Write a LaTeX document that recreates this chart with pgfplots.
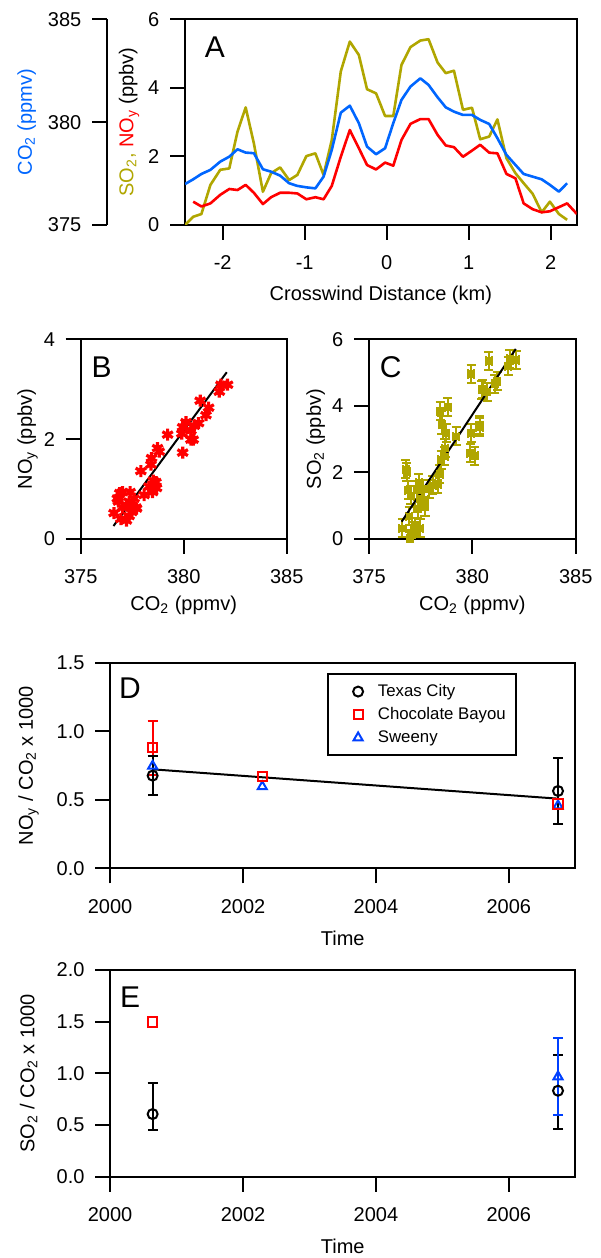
\documentclass[border=0pt]{standalone}
\usepackage{fontspec}
\setmainfont{Liberation Sans}
\usepackage{pgfplots}
\usepackage{pgfplotstable}
\pgfplotsset{compat=1.18}

\definecolor{cblue}{RGB}{0,102,255}
\definecolor{cred}{RGB}{255,0,0}
\definecolor{colive}{RGB}{176,166,0}
\definecolor{dblue}{RGB}{0,64,255}

\pgfplotstableread{
x co2 noy so2
-2.46 376.99 nan 0.00
-2.36 377.22 0.68 0.24
-2.26 377.48 0.54 0.32
-2.15 377.68 0.63 1.17
-2.03 378.08 0.88 1.61
-1.92 378.32 1.05 1.65
-1.82 378.68 1.02 2.72
-1.72 378.52 1.17 3.43
-1.62 378.49 0.94 2.38
-1.51 377.71 0.61 0.97
-1.41 377.59 0.81 1.51
-1.30 377.40 0.94 1.68
-1.19 377.03 0.94 1.31
-1.09 376.90 0.92 1.46
-0.98 376.83 0.75 2.01
-0.87 376.78 0.81 2.09
-0.77 377.35 0.75 1.46
-0.67 378.65 1.14 2.48
-0.56 380.46 1.99 4.48
-0.45 380.80 2.77 5.35
-0.34 379.95 2.24 4.96
-0.24 378.81 1.75 3.96
-0.13 378.44 1.62 3.84
-0.02 378.73 1.82 3.18
0.08 379.95 1.73 3.18
0.18 381.08 2.48 4.67
0.29 381.73 2.95 5.19
0.41 382.13 3.09 5.38
0.51 381.81 3.09 5.42
0.62 381.21 2.63 4.74
0.72 380.72 2.32 4.43
0.82 380.51 2.27 4.50
0.93 380.35 1.99 3.36
1.04 380.35 2.17 3.42
1.14 380.11 2.34 2.50
1.25 379.91 2.11 2.58
1.35 379.22 2.09 3.08
1.46 378.41 1.49 1.95
1.57 377.92 1.36 1.51
1.67 377.48 0.63 1.22
1.78 377.35 0.46 0.91
1.89 377.22 0.37 0.37
1.99 376.95 0.40 0.68
2.10 376.62 0.52 0.32
2.20 377.03 0.63 0.15
2.32 nan 0.32 nan
}\plume

\newcommand{\tfont}{\fontsize{10}{12}\selectfont}
\newcommand{\pfont}{\fontsize{15}{15}\selectfont}

\pgfplotsset{
  every axis/.append style={
    scale only axis,
    font=\tfont,
    tick align=outside,
    tick pos=left,
    major tick length=7.5pt,
    axis line style={line width=1pt},
    tick style={line width=1pt, black},
    /pgf/number format/assume math mode=true,
    /pgf/number format/1000 sep={},
    tick label style={font=\tfont},
    label style={font=\tfont},
    xticklabel style={anchor=center, yshift=-11.5pt},
    yticklabel style={xshift=-1.8pt},
    xlabel style={at={(axis description cs:0.5,0)}, anchor=center, yshift=-35pt},
  },
  ebar/.style={error bars/.cd, y dir=both, y explicit,
    error bar style={line width=1pt, #1},
    error mark options={rotate=90, mark size=2.5pt, line width=1pt, #1}},
}

\begin{document}
\begin{tikzpicture}
\path[use as bounding box] (0,0) rectangle (300pt,629pt);

% ---------------- Panel A ----------------
\begin{axis}[
  at={(92.5pt,516.5pt)}, anchor=south west,
  width=195.85pt, height=102.85pt,
  xmin=-2.46, xmax=2.317, ymin=0, ymax=6,
  xtick={-2,-1,0,1,2}, xticklabels={-2,-1,0,1,2},
  ytick={0,2,4,6},
  xlabel={Crosswind Distance (km)},
  ylabel={\color{colive}SO\textsubscript{2}, \color{cred}NO\textsubscript{y} \color{black}(ppbv)},
  ylabel style={at={(axis description cs:0,0.5)}, anchor=center, yshift=28pt},
]
\addplot[colive, line width=1.3pt, line join=round] table[x=x, y=so2] {\plume};
\addplot[cred, line width=1.3pt, line join=round] table[x=x, y=noy] {\plume};
\node[font=\pfont, anchor=center] at (rel axis cs:0.0766,0.864) {A};
\end{axis}
\begin{axis}[
  at={(92.5pt,516.5pt)}, anchor=south west,
  width=195.85pt, height=102.85pt,
  xmin=-2.46, xmax=2.317, ymin=375, ymax=385,
  hide axis,
]
\addplot[cblue, line width=1.3pt, line join=round] table[x=x, y=co2] {\plume};
\end{axis}
% CO2 scale (detached left axis)
\begin{axis}[
  at={(53.5pt,516.5pt)}, anchor=south west,
  width=1pt, height=102.85pt,
  xmin=0, xmax=1, ymin=375, ymax=385,
  axis x line=none, axis y line=left,
  axis line style={-, line width=1pt},
  tick align=outside,
  ytick={375,380,385},
  ylabel={\color{cblue}CO\textsubscript{2} (ppmv)},
  ylabel style={at={(axis description cs:0,0.5)}, anchor=center, yshift=40.1pt},
]
\end{axis}

% ---------------- Panel B ----------------
\begin{axis}[
  at={(40.35pt,359.5pt)}, anchor=south west,
  width=103pt, height=99.85pt,
  xmin=375, xmax=385, ymin=0, ymax=4,
  xtick={375,380,385}, ytick={0,2,4},
  xlabel={CO\textsubscript{2} (ppmv)},
  xlabel style={yshift=2pt},
  ylabel={NO\textsubscript{y} (ppbv)},
  ylabel style={at={(axis description cs:0,0.5)}, anchor=center, yshift=26.5pt},
]
\addplot[only marks, mark=asterisk, mark size=3pt, cred, mark options={line width=1.6pt}] table[x=co2, y=noy] {\plume};
\addplot[black, line width=1pt] coordinates {(376.59,0.26) (382.09,3.34)};
\node[font=\pfont, anchor=center] at (rel axis cs:0.102,0.86) {B};
\end{axis}

% ---------------- Panel C ----------------
\begin{axis}[
  at={(184.5pt,359.5pt)}, anchor=south west,
  width=103.35pt, height=99.85pt,
  xmin=375, xmax=385, ymin=0, ymax=6,
  xtick={375,380,385}, ytick={0,2,4,6},
  xlabel={CO\textsubscript{2} (ppmv)},
  xlabel style={yshift=2pt},
  ylabel={SO\textsubscript{2} (ppbv)},
  ylabel style={at={(axis description cs:0,0.5)}, anchor=center, yshift=26.7pt},
]
\addplot[only marks, mark=square*, mark size=1.7pt, colive,
  error bars/.cd, x dir=both, x fixed=0.15, y dir=both, y fixed=0.27,
  error bar style={line width=1pt, colive},
  error mark options={rotate=90, mark size=2.3pt, line width=1pt, colive}]
  table[x=co2, y=so2] {\plume};
\addplot[black, line width=1pt] coordinates {(376.58,0.52) (382.10,5.71)};
\node[font=\pfont, anchor=center] at (rel axis cs:0.105,0.86) {C};
\end{axis}

% ---------------- Panel D ----------------
\begin{axis}[
  at={(55.05pt,194.85pt)}, anchor=south west,
  width=232.6pt, height=102.8pt,
  xmin=2000, xmax=2007, ymin=0, ymax=1.5,
  xtick={2000,2002,2004,2006}, xticklabels={2000,2002,2004,2006},
  ytick={0,0.5,1,1.5}, yticklabels={0.0,0.5,1.0,1.5},
  xlabel={Time},
  ylabel={NO\textsubscript{y} / CO\textsubscript{2} x 1000},
  ylabel style={at={(axis description cs:0,0.5)}, anchor=center, yshift=40.7pt},
  reverse legend,
  legend cell align=left,
  legend image code/.code={\path (-0.4cm,0) (0.26cm,0); \draw[mark repeat=1,#1] plot coordinates {(0cm,0cm)};},
  legend style={at={(axis description cs:0.467,0.948)}, anchor=north west,
    draw=black, line width=1pt, font=\fontsize{8.4}{10}\selectfont,
    inner xsep=3pt, inner ysep=2.8pt,
    nodes={inner ysep=2pt}},
]
\addplot[black, line width=1pt, forget plot] coordinates {(2000.64,0.722) (2006.74,0.508)};
\addplot[only marks, mark=triangle, mark size=2.6pt, dblue, mark options={line width=1pt}]
  coordinates {(2000.64,0.746) (2002.29,0.596) (2006.74,0.457)};
\addlegendentry{Sweeny}
\addplot[forget plot, only marks, mark=square, mark size=2.3pt, cred, mark options={line width=1pt}, ebar=cred]
  coordinates {(2000.64,0.880) +- (0,0.197)};
\addplot[only marks, mark=square, mark size=2.3pt, cred, mark options={line width=1pt}]
  coordinates {(2000.64,0.880) (2002.29,0.669) (2006.74,0.469)};
\addlegendentry{Chocolate Bayou}
\addplot[only marks, mark=o, mark size=2.5pt, black, mark options={line width=1pt}, ebar=black]
  coordinates {(2000.64,0.676) +- (0,0.143) (2006.74,0.564) +- (0,0.240)};
\addlegendentry{Texas City}
\node[font=\pfont, anchor=center] at (rel axis cs:0.0428,0.875) {D};
\end{axis}

% ---------------- Panel E ----------------
\begin{axis}[
  at={(55.05pt,40.65pt)}, anchor=south west,
  width=232.6pt, height=103.35pt,
  xmin=2000, xmax=2007, ymin=0, ymax=2,
  xtick={2000,2002,2004,2006}, xticklabels={2000,2002,2004,2006},
  ytick={0,0.5,1,1.5,2}, yticklabels={0.0,0.5,1.0,1.5,2.0},
  xlabel={Time},
  ylabel={SO\textsubscript{2} / CO\textsubscript{2} x 1000},
  ylabel style={at={(axis description cs:0,0.5)}, anchor=center, yshift=40.7pt},
]
\addplot[only marks, mark=o, mark size=2.5pt, black, mark options={line width=1pt}, ebar=black]
  coordinates {(2000.64,0.606) += (0,0.304) -= (0,0.158) (2006.74,0.832) += (0,0.345) -= (0,0.371)};
\addplot[only marks, mark=square, mark size=2.3pt, cred, mark options={line width=1pt}]
  coordinates {(2000.64,1.497)};
\addplot[only marks, mark=triangle, mark size=2.6pt, dblue, mark options={line width=1pt}, ebar=dblue]
  coordinates {(2006.74,0.968) +- (0,0.375)};
\node[font=\pfont, anchor=center] at (rel axis cs:0.0428,0.868) {E};
\end{axis}
\end{tikzpicture}
\end{document}
